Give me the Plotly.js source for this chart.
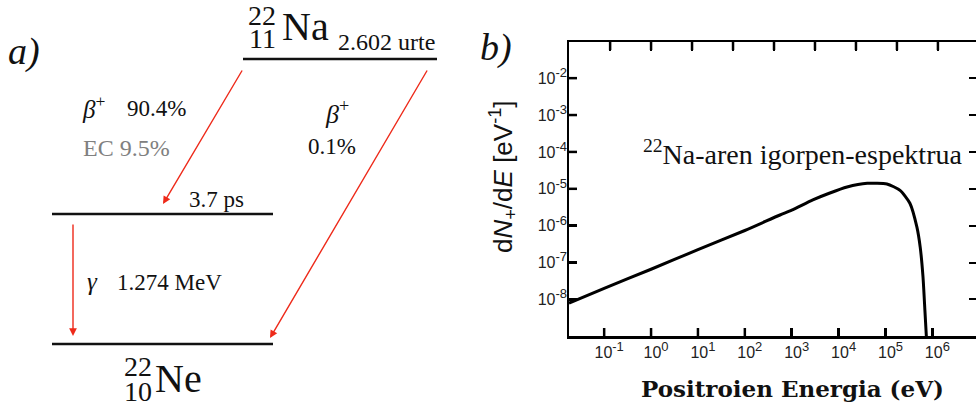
<!DOCTYPE html>
<html><head><meta charset="utf-8">
<script src="https://cdn.plot.ly/plotly-3.0.1.min.js"></script>
<style>html,body{margin:0;padding:0;background:#fff}#chart{width:976px;height:406px}</style>
</head><body><div id="chart"></div>
<script>
// ---- data ----
const energyEV = [0.0178, 0.1, 1, 10, 100, 562, 1000, 2818, 6310, 15136, 40738, 107152, 204174, 331131, 467735, 549541, 630957, 691831, 758578];
const dNdE = [7.94e-9, 2.0e-8, 6.6e-8, 2.24e-7, 7.41e-7, 1.95e-6, 2.63e-6, 5.01e-6, 7.59e-6, 1.12e-5, 1.41e-5, 1.35e-5, 9.12e-6, 4.07e-6, 9.12e-7, 2.63e-7, 4.07e-8, 5.13e-9, 6.3e-10];
const xTickVals = [0.1, 1, 10, 100, 1e3, 1e4, 1e5, 1e6];
const xTickExps = ['-1', '0', '1', '2', '3', '4', '5', '6'];
const topTickVals = [0.134, 1, 7.48, 56, 419, 3133, 23442, 175388, 1312196];
const yTickVals = [1e-8, 1e-7, 1e-6, 1e-5, 1e-4, 1e-3, 1e-2];
const yTickExps = ['-8', '-7', '-6', '-5', '-4', '-3', '-2'];
const parentNucleus = {A: '22', Z: '11', sym: 'Na', halfLife: '2.602 urte'};
const daughterNucleus = {A: '22', Z: '10', sym: 'Ne'};
const branchMain = {beta: '90.4%', ec: 'EC 9.5%'};
const branchDirect = '0.1%';
const excitedLifetime = '3.7 ps';
const gammaEnergy = '1.274 MeV';
const spectrumLabel = '<sup>22</sup>Na-aren igorpen-espektrua';
const xTitle = '<b>Positroien Energia (eV)</b>';
const yTitle = 'd<i>N</i><sub>+</sub>/d<i>E</i> [eV<sup>-1</sup>]';

const W = 976, H = 406;
const px = x => x / W, py = y => 1 - y / H;
const SERIF = 'Liberation Serif';
const SANS = 'Liberation Sans';
const RED = '#ee2a1a';
const supLab = e => '10<sup><span style="font-size:13px">' + e + '</span></sup>';
const X_RANGE = [-1.75, 6.93], Y_RANGE = [-8.99, -1.02];
const xDom = [569 / W, 1], yDom = [1 - 336 / H, 1 - 42 / H];

function txt(text, x, y, size, opts) {
  return Object.assign({text: text, x: px(x), y: py(y), xref: 'paper', yref: 'paper',
    showarrow: false, xanchor: 'left', yanchor: 'middle',
    font: {family: SERIF, size: size, color: '#111'}}, opts || {});
}
function arrow(hx, hy, tx, ty) {
  return {text: '', x: px(hx), y: py(hy), xref: 'paper', yref: 'paper', showarrow: true,
    ax: tx - hx, ay: ty - hy, axref: 'pixel', ayref: 'pixel',
    arrowhead: 2, arrowsize: 1.1, arrowwidth: 1.4, arrowcolor: RED};
}
const betaPlus = '<i>β</i><sup>+</sup>';

const annotations = [
  txt('<i>a)</i>', 24, 51, 38, {xanchor: 'center'}),
  txt('<i>b)</i>', 496, 47, 38, {xanchor: 'center'}),
  txt(parentNucleus.A, 262, 15, 28, {xanchor: 'center'}),
  txt(parentNucleus.Z, 262, 38, 28, {xanchor: 'center'}),
  txt(parentNucleus.sym, 280, 27, 40),
  txt(parentNucleus.halfLife, 336, 42, 24),
  txt(betaPlus, 80, 107, 25),
  txt(branchMain.beta, 125, 108, 23),
  txt(branchMain.ec, 81, 148, 24, {font: {family: SERIF, size: 24, color: '#808080'}}),
  txt(betaPlus, 337, 112, 26, {xanchor: 'center'}),
  txt(branchDirect, 332, 147, 23, {xanchor: 'center'}),
  txt(excitedLifetime, 187, 199, 23),
  txt('<i>γ</i>', 85, 281, 25),
  txt(gammaEnergy, 115, 282, 23),
  txt(daughterNucleus.A, 138, 366, 28, {xanchor: 'center'}),
  txt(daughterNucleus.Z, 138, 391, 28, {xanchor: 'center'}),
  txt(daughterNucleus.sym, 153, 378, 40),
  arrow(163, 204, 243, 69),
  arrow(270, 338, 428, 69),
  arrow(73, 336, 73, 223),
  txt(spectrumLabel, 964, 152, 28, {xanchor: 'right'}),
  txt(xTitle, 792, 388, 23, {xanchor: 'center', font: {family: 'DejaVu Serif', size: 23, color: '#111'}}),
  txt(yTitle, 503, 177, 26, {xanchor: 'center', textangle: -90, font: {family: SANS, size: 26, color: '#111'}})
];

// level lines of the decay scheme
const shapes = [
  [243, 437, 59], [52, 273, 214], [52, 273, 344]
].map(s => ({type: 'line', xref: 'paper', yref: 'paper', x0: px(s[0]), x1: px(s[1]), y0: py(s[2]), y1: py(s[2]),
  line: {color: '#111', width: 2.5}}));
// inward tick marks on the frame (top, bottom, left), placed through the axes' log mapping
const xFrac = v => xDom[0] + (Math.log10(v) - X_RANGE[0]) / (X_RANGE[1] - X_RANGE[0]) * (xDom[1] - xDom[0]);
const yFrac = v => yDom[0] + (Math.log10(v) - Y_RANGE[0]) / (Y_RANGE[1] - Y_RANGE[0]) * (yDom[1] - yDom[0]);
const tickLine = {color: '#000', width: 2.5};
topTickVals.forEach(v => shapes.push({type: 'line', xref: 'paper', yref: 'paper', layer: 'above',
  x0: xFrac(v), x1: xFrac(v), y0: yDom[1], y1: yDom[1] - 8 / H, line: tickLine}));
xTickVals.forEach(v => shapes.push({type: 'line', xref: 'paper', yref: 'paper', layer: 'above',
  x0: xFrac(v), x1: xFrac(v), y0: yDom[0], y1: yDom[0] + 8 / H, line: tickLine}));
yTickVals.forEach(v => shapes.push({type: 'line', xref: 'paper', yref: 'paper', layer: 'above',
  x0: xDom[0], x1: xDom[0] + 8 / W, y0: yFrac(v), y1: yFrac(v), line: tickLine}));

const traces = [
  {x: energyEV, y: dNdE, type: 'scatter', mode: 'lines', line: {color: '#000', width: 3, shape: 'spline', smoothing: 0.6},
   hoverinfo: 'skip', showlegend: false},
  {x: [1], y: [1e-20], xaxis: 'x2', yaxis: 'y2', type: 'scatter', mode: 'markers', marker: {opacity: 0}, showlegend: false, hoverinfo: 'skip'},
  {x: [1], y: [1e-20], xaxis: 'x3', yaxis: 'y3', type: 'scatter', mode: 'markers', marker: {opacity: 0}, showlegend: false, hoverinfo: 'skip'}
];

const axisBase = {showgrid: false, zeroline: false, linecolor: '#000', tickcolor: '#000', fixedrange: true};
const layout = {
  width: W, height: H, margin: {l: 0, r: 0, t: 0, b: 0},
  paper_bgcolor: '#fff', plot_bgcolor: 'rgba(0,0,0,0)', showlegend: false,
  xaxis: Object.assign({}, axisBase, {type: 'log', domain: xDom, range: X_RANGE, autorange: false,
    showline: false, ticks: 'inside', ticklen: 8, tickwidth: 2.5,
    tickvals: xTickVals, ticktext: xTickExps.map(supLab), ticklabelstandoff: 5, ticklabelshift: 5,
    tickfont: {family: SANS, size: 16, color: '#222'}}),
  yaxis: Object.assign({}, axisBase, {type: 'log', domain: yDom, range: Y_RANGE, autorange: false,
    showline: false, ticks: 'inside', ticklen: 8, tickwidth: 2.5,
    tickvals: yTickVals, ticktext: yTickExps.map(supLab), ticklabelstandoff: 1,
    tickfont: {family: SANS, size: 16, color: '#222'}}),
  xaxis2: Object.assign({}, axisBase, {domain: xDom, anchor: 'free', position: yDom[1], side: 'top', type: 'log', range: X_RANGE, autorange: false,
    showline: false, ticks: 'inside', ticklen: 8, tickwidth: 2.5, tickmode: 'array', tickvals: topTickVals, showticklabels: false}),
  yaxis2: Object.assign({}, axisBase, {domain: yDom, anchor: 'free', position: 1, side: 'right', type: 'log', range: Y_RANGE, autorange: false,
    showline: false, ticks: 'inside', ticklen: 7, tickwidth: 2, tickmode: 'array', tickvals: yTickVals, showticklabels: false}),
  // frame lines: bottom + top (mirrored) and left
  xaxis3: Object.assign({}, axisBase, {domain: xDom, anchor: 'y3', type: 'log', range: X_RANGE, autorange: false,
    showline: true, mirror: true, linewidth: 2.5, ticks: '', showticklabels: false}),
  yaxis3: Object.assign({}, axisBase, {domain: yDom, anchor: 'x3', type: 'log', range: Y_RANGE, autorange: false,
    showline: true, linewidth: 2.5, ticks: '', showticklabels: false}),
  annotations: annotations,
  shapes: shapes
};
Plotly.newPlot('chart', traces, layout, {staticPlot: true, displayModeBar: false});
</script></body></html>
